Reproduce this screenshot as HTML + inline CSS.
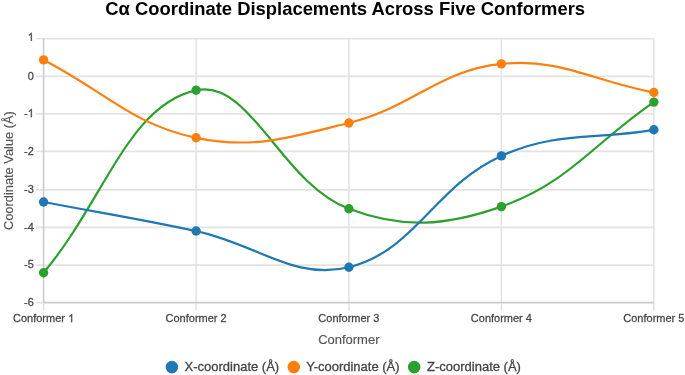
<!DOCTYPE html>
<html><head><meta charset="utf-8"><style>
html,body{margin:0;padding:0;background:#fff;width:685px;height:375px;overflow:hidden}
svg{display:block;will-change:transform;filter:blur(0.3px);font-family:"Liberation Sans",sans-serif}
</style></head><body>
<svg width="685" height="375" viewBox="0 0 685 375">
<text transform="translate(345.20 14.70) scale(1 1.000)" text-anchor="middle" font-weight="bold" font-size="18.4" fill="#000">Cα Coordinate Displacements Across Five Conformers</text>
<g stroke="#e3e3e3" stroke-width="1.6">
<line x1="36.1" y1="302.60" x2="653.9" y2="302.60"/>
<line x1="36.1" y1="265.10" x2="653.9" y2="265.10"/>
<line x1="36.1" y1="227.40" x2="653.9" y2="227.40"/>
<line x1="36.1" y1="189.90" x2="653.9" y2="189.90"/>
<line x1="36.1" y1="151.40" x2="653.9" y2="151.40"/>
<line x1="36.1" y1="113.90" x2="653.9" y2="113.90"/>
<line x1="36.1" y1="76.40" x2="653.9" y2="76.40"/>
<line x1="36.1" y1="38.80" x2="653.9" y2="38.80"/>
<line x1="43.60" y1="38.80" x2="43.60" y2="310.60"/>
<line x1="196.10" y1="38.80" x2="196.10" y2="310.60"/>
<line x1="348.90" y1="38.80" x2="348.90" y2="310.60"/>
<line x1="501.40" y1="38.80" x2="501.40" y2="310.60"/>
<line x1="653.85" y1="38.80" x2="653.85" y2="310.60"/>
</g>
<g stroke="#000" stroke-opacity="0.1" stroke-width="1.6">
<line x1="43.60" y1="38.80" x2="43.60" y2="302.60"/>
<line x1="43.60" y1="302.60" x2="653.85" y2="302.60"/>
</g>
<g font-size="11" fill="#444" stroke="#444" stroke-width="0.25">
<text transform="translate(33.80 305.85) scale(1 1.050)" text-anchor="end">-6</text>
<text transform="translate(33.80 268.35) scale(1 1.050)" text-anchor="end">-5</text>
<text transform="translate(33.80 230.65) scale(1 1.050)" text-anchor="end">-4</text>
<text transform="translate(33.80 193.15) scale(1 1.050)" text-anchor="end">-3</text>
<text transform="translate(33.80 154.65) scale(1 1.050)" text-anchor="end">-2</text>
<text transform="translate(27.68 117.15) scale(1 1.050)" text-anchor="end">-</text>
<path transform="translate(27.68 117.15) scale(0.005371 -0.005640)" d="M763 0L583 0L583 1147Q518 1085 412 1023Q306 961 223 930L223 1104Q373 1175 486 1276Q599 1377 646 1472L763 1472Z" stroke-width="46.5"/>
<text transform="translate(33.80 79.65) scale(1 1.050)" text-anchor="end">0</text>
<path transform="translate(27.68 41.05) scale(0.005371 -0.005640)" d="M763 0L583 0L583 1147Q518 1085 412 1023Q306 961 223 930L223 1104Q373 1175 486 1276Q599 1377 646 1472L763 1472Z" stroke-width="46.5"/>
<text transform="translate(13.03 322.20) scale(1 1.050)" text-anchor="start">Conformer</text>
<path transform="translate(68.05 322.20) scale(0.005371 -0.005640)" d="M763 0L583 0L583 1147Q518 1085 412 1023Q306 961 223 930L223 1104Q373 1175 486 1276Q599 1377 646 1472L763 1472Z" stroke-width="46.5"/>
<text transform="translate(196.10 322.20) scale(1 1.050)" text-anchor="middle">Conformer 2</text>
<text transform="translate(348.90 322.20) scale(1 1.050)" text-anchor="middle">Conformer 3</text>
<text transform="translate(501.40 322.20) scale(1 1.050)" text-anchor="middle">Conformer 4</text>
<text transform="translate(653.85 322.20) scale(1 1.050)" text-anchor="middle">Conformer 5</text>
</g>
<text transform="translate(348.80 343.50) scale(1 1.050)" text-anchor="middle" font-size="13" fill="#555" stroke="#555" stroke-width="0.15">Conformer</text>
<text transform="translate(13.3 170.6) rotate(-90) scale(1 1.000)" text-anchor="middle" font-size="12.85" fill="#555" stroke="#555" stroke-width="0.15">Coordinate Value (Å)</text>
<path d="M43.60 272.80 C104.60 199.80 128.74 104.42 196.10 90.30 C250.86 78.82 280.63 182.79 348.90 208.80 C402.75 229.31 446.25 225.90 501.40 206.60 C568.23 183.22 592.87 143.90 653.85 102.10" fill="none" stroke="#2ca02c" stroke-width="2.2"/><circle cx="43.60" cy="272.80" r="4.7" fill="#2ca02c"/><circle cx="196.10" cy="90.30" r="4.7" fill="#2ca02c"/><circle cx="348.90" cy="208.80" r="4.7" fill="#2ca02c"/><circle cx="501.40" cy="206.60" r="4.7" fill="#2ca02c"/><circle cx="653.85" cy="102.10" r="4.7" fill="#2ca02c"/>
<path d="M43.60 59.90 C104.60 91.06 131.71 124.49 196.10 137.80 C253.83 149.73 289.77 137.31 348.90 123.00 C411.89 107.75 438.79 70.16 501.40 63.90 C560.77 57.96 592.87 81.06 653.85 92.50" fill="none" stroke="#ff7f0e" stroke-width="2.2"/><circle cx="43.60" cy="59.90" r="4.7" fill="#ff7f0e"/><circle cx="196.10" cy="137.80" r="4.7" fill="#ff7f0e"/><circle cx="348.90" cy="123.00" r="4.7" fill="#ff7f0e"/><circle cx="501.40" cy="63.90" r="4.7" fill="#ff7f0e"/><circle cx="653.85" cy="92.50" r="4.7" fill="#ff7f0e"/>
<path d="M43.60 202.00 C104.60 213.62 135.39 218.08 196.10 231.05 C257.51 244.16 293.45 280.85 348.90 267.20 C415.57 250.79 434.35 186.11 501.40 155.90 C556.33 131.15 592.87 140.24 653.85 129.80" fill="none" stroke="#1f77b4" stroke-width="2.2"/><circle cx="43.60" cy="202.00" r="4.7" fill="#1f77b4"/><circle cx="196.10" cy="231.05" r="4.7" fill="#1f77b4"/><circle cx="348.90" cy="267.20" r="4.7" fill="#1f77b4"/><circle cx="501.40" cy="155.90" r="4.7" fill="#1f77b4"/><circle cx="653.85" cy="129.80" r="4.7" fill="#1f77b4"/>
<g font-size="13" fill="#444" stroke="#444" stroke-width="0.3">
<circle cx="171.9" cy="367.1" r="6.3" fill="#1f77b4" stroke="none"/>
<text transform="translate(184.60 371.10) scale(1 1.040)" text-anchor="start">X-coordinate (Å)</text>
<circle cx="293.8" cy="367.1" r="6.3" fill="#ff7f0e" stroke="none"/>
<text transform="translate(306.20 371.10) scale(1 1.040)" text-anchor="start">Y-coordinate (Å)</text>
<circle cx="414.2" cy="367.1" r="6.3" fill="#2ca02c" stroke="none"/>
<text transform="translate(427.10 371.10) scale(1 1.040)" text-anchor="start">Z-coordinate (Å)</text>
</g>
</svg>
</body></html>
